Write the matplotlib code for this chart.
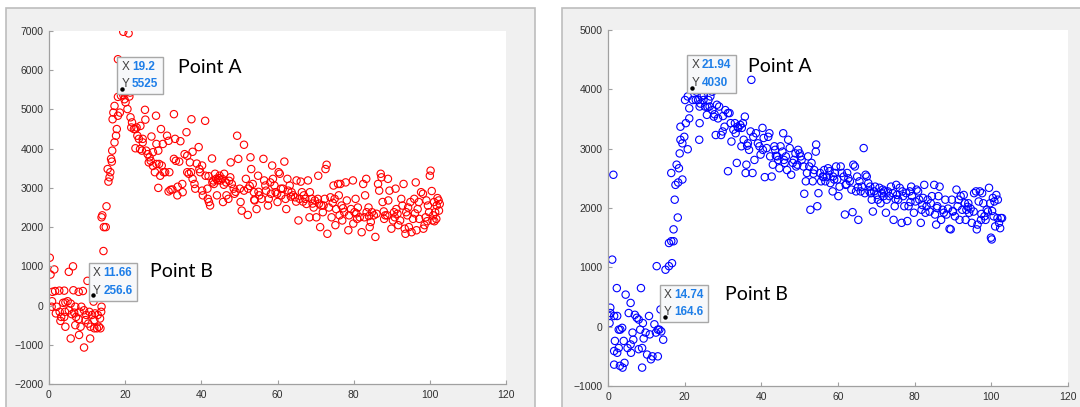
import matplotlib
matplotlib.use('Agg')
import matplotlib.pyplot as plt
from matplotlib.patches import Rectangle
from matplotlib.offsetbox import TextArea, HPacker, VPacker, AnnotationBbox

plt.rcParams['font.family'] = 'Liberation Sans'

# ---- left series (red) ----
red_x = [0.2, 0.4, 1.4, 0.9, 1.6, 2.7, 4.0, 0.8, 0.7, 2.0, 1.8, 2.8, 3.2, 3.7, 4.3, 4.9, 5.2, 4.2,
         4.0, 3.0, 4.3, 5.7, 5.2, 6.3, 6.4, 7.8, 8.9, 6.9, 6.6, 6.0, 7.1, 8.0, 8.5, 7.8, 6.9, 8.3,
         5.7, 7.9, 9.2, 10.1, 10.8, 9.2, 9.8, 10.6, 9.6, 10.3, 11.3, 11.66, 11.7, 11.9, 12.1, 12.8,
         13.1, 13.5, 13.8, 13.7, 13.4, 12.6, 11.9, 10.9, 14.3, 15.1, 14.0, 14.4, 14.9, 13.8, 15.6,
         15.9, 15.4, 16.1, 16.3, 16.5, 16.6, 17.2, 17.6, 17.8, 16.7, 16.9, 17.2, 18.1, 18.6, 18.1,
         18.9, 19.5, 19.2, 18.1, 19.5, 20.9, 19.8, 20.1, 20.6, 21.3, 21.1, 19.9, 21.4, 21.8, 21.6,
         22.3, 22.7, 23.0, 23.6, 24.0, 23.2, 23.6, 24.6, 24.6, 22.7, 23.9, 24.4, 25.2, 25.3, 25.5,
         25.9, 26.4, 26.2, 26.7, 27.3, 26.9, 27.3, 28.1, 28.2, 28.7, 27.8, 28.2, 28.9, 29.4, 29.6,
         30.1, 29.2, 28.7, 29.9, 31.0, 31.4, 31.6, 30.5, 31.9, 31.4, 32.4, 32.8, 33.1, 32.8, 33.3,
         33.7, 33.8, 34.2, 34.5, 35.0, 35.1, 35.6, 36.1, 36.3, 36.3, 36.7, 37.0, 37.3, 37.4, 37.7,
         37.7, 38.2, 38.4, 38.8, 39.3, 39.5, 39.7, 40.2, 40.2, 40.4, 41.0, 41.1, 41.6, 41.7, 42.0,
         42.3, 42.8, 42.9, 43.1, 43.6, 43.9, 44.1, 44.3, 44.8, 45.1, 45.5, 45.7, 46.0, 46.5, 46.6,
         47.1, 47.6, 47.7, 48.0, 48.5, 48.7, 49.4, 49.7, 50.1, 50.3, 50.6, 51.2, 51.2, 51.7, 52.2,
         52.3, 52.9, 53.1, 53.5, 53.8, 54.0, 54.5, 54.9, 55.2, 55.8, 56.3, 56.5, 56.8, 57.0, 57.5,
         57.7, 58.1, 58.6, 58.8, 59.2, 59.5, 60.0, 60.3, 60.6, 61.0, 61.4, 61.8, 62.1, 62.3, 62.6,
         62.8, 63.2, 63.7, 64.1, 64.6, 65.0, 65.5, 65.8, 66.1, 66.4, 66.9, 67.3, 67.6, 68.0, 68.4,
         68.5, 69.0, 69.5, 69.8, 70.2, 70.6, 70.7, 71.2, 71.5, 71.9, 72.4, 72.6, 72.9, 73.1, 73.5,
         73.9, 74.2, 74.7, 75.0, 75.2, 75.4, 75.9, 76.1, 76.5, 76.8, 77.0, 77.5, 77.9, 78.2, 78.6,
         78.8, 79.3, 79.8, 79.9, 80.2, 80.5, 80.9, 81.1, 81.6, 82.1, 82.5, 83.0, 83.3, 83.4, 83.9,
         84.2, 84.5, 84.8, 85.3, 85.7, 86.0, 86.4, 86.7, 87.1, 87.3, 87.6, 88.0, 88.3, 88.8, 89.0,
         89.1, 89.4, 89.9, 90.3, 90.6, 91.0, 91.2, 91.5, 91.7, 92.2, 92.5, 92.8, 93.1, 93.4, 93.6,
         93.8, 94.3, 94.5, 94.9, 95.2, 95.6, 95.9, 96.3, 96.5, 96.8, 97.1, 97.2, 97.7, 98.2, 98.3,
         98.6, 98.9, 99.1, 99.5, 99.8, 100.0, 100.2, 100.5, 100.7, 100.9, 101.1, 101.4, 101.7,
         101.8, 102.0, 102.3, 102.4, 102.6,
         44.6, 45.9, 47.3, 49.0, 52.7, 55.0, 58.3, 60.9, 63.5, 66.7, 69.2, 72.1, 74.5, 77.2, 80.7,
         84.0, 87.9, 90.8, 94.1, 96.1, 99.3, 101.2, 41.9, 43.3, 53.9, 59.9, 64.9, 70.9, 76.3, 82.8]
red_y = [1220, 790, 920, 350, 370, 380, 380, 110, -30, -30, -200, -160, -290, 70, 80, 110, -120,
         -160, -290, -390, -540, 50, 860, 1000, 390, 350, 370, -30, -180, -220, -290, -160, -30,
         -350, -500, -540, -840, -750, -1070, 630, -840, -120, -240, -160, -370, -460, -240, 256.6,
         100, -370, -200, -240, -540, -580, -30, -160, -330, -580, -580, -540, 1390, 2530, 2300,
         2000, 2000, 2250, 3160, 3270, 3480, 3400, 3740, 3670, 3950, 4160, 4330, 4500, 4750, 4920,
         5090, 4840, 4920, 5320, 5350, 5370, 5525, 6280, 6980, 6940, 5260, 5180, 5010, 5430, 5330,
         5430, 4800, 4670, 4540, 4500, 4500, 4540, 5500, 4580, 4330, 4250, 4250, 4160, 4010, 3990,
         3950, 4990, 4740, 3950, 3860, 3780, 3650, 3690, 3560, 4310, 3910, 4840, 4120, 3950, 3400,
         3610, 3610, 4500, 3570, 3400, 3310, 3000, 4120, 4330, 4200, 3400, 3400, 2950, 2910, 2960,
         4880, 4250, 3740, 3690, 2810, 3030, 3670, 4190, 3100, 2890, 3860, 4420, 3820, 3400, 3360,
         3650, 3400, 4750, 3920, 3230, 3100, 2980, 3620, 4040, 3480, 3400, 3570, 2930, 2810, 4710,
         3310, 2980, 2720, 2640, 2550, 3750, 3140, 3190, 3360, 3230, 2810, 3190, 3310, 3190, 3230,
         2640, 3360, 3140, 2810, 2720, 3270, 3650, 3100, 2980, 2850, 4330, 3740, 2980, 2640, 2420,
         4100, 2930, 3230, 2310, 2980, 3780, 3480, 3100, 2890, 2680, 2460, 3310, 2810, 2720, 3740,
         3190, 3060, 2930, 2550, 2720, 3140, 3570, 3230, 3060, 2890, 2640, 3400, 3360, 2810, 2980,
         3670, 2720, 2460, 3230, 2930, 3060, 2890, 2810, 2760, 3190, 2170, 2720, 3160, 2890, 2810,
         2720, 2590, 3190, 2250, 2890, 2720, 2500, 2680, 2250, 2720, 3310, 2000, 2550, 2380, 2720,
         3480, 3590, 1830, 2500, 2760, 2250, 3060, 2720, 2050, 2460, 3100, 2810, 3100, 2550, 2170,
         2380, 3140, 2680, 1920, 2300, 2460, 3190, 2090, 2380, 2720, 2210, 2500, 2250, 1870, 3100,
         2810, 3230, 2380, 2500, 2000, 2130, 2380, 2300, 1750, 2340, 3100, 2930, 3360, 3270, 2640,
         2210, 2300, 2300, 3230, 2680, 2930, 1960, 2170, 2380, 2980, 2460, 2340, 2050, 2170, 2720,
         2550, 3100, 1960, 1830, 2380, 2500, 2000, 2640, 1870, 2210, 2720, 3140, 1920, 2460, 2640,
         2210, 2890, 2850, 1960, 2050, 2250, 2680, 2550, 2380, 3310, 3440, 2920, 2170, 2300, 2640,
         2380, 2210, 2550, 2740, 2680, 2420, 2590,
         3250, 3080, 3180, 2900, 3050, 2900, 2850, 2980, 2780, 2650, 2600, 2550, 2620, 2480, 2350,
         2280, 2400, 2250, 2300, 2350, 2150, 2150, 3300, 3100, 2700, 2850, 2650, 2600, 2300, 2250]

# ---- right series (blue) ----
blue_x = [1.4, 1.1, 0.6, 0.2, 0.6, 0.4, 1.6, 2.3, 2.4, 2.8, 3.2, 3.7, 1.8, 1.6, 2.4, 2.8, 1.6, 3.1,
          3.8, 4.3, 4.1, 4.6, 5.4, 5.9, 5.1, 5.9, 6.4, 6.6, 6.0, 7.0, 7.5, 8.0, 8.6, 8.4, 9.1, 8.9,
          8.0, 8.9, 9.3, 9.8, 10.7, 10.2, 10.9, 11.6, 11.2, 12.1, 12.7, 12.5, 13.0, 13.4, 13.0, 13.7,
          13.9, 14.4, 14.74, 15.0, 15.3, 15.8, 15.9, 16.7, 15.9, 16.5, 17.1, 17.1, 17.4, 18.2, 17.6,
          17.9, 18.5, 18.3, 19.4, 16.5, 18.7, 18.9, 19.4, 19.9, 18.9, 20.3, 21.2, 20.8, 20.1, 20.8,
          21.2, 21.94, 22.1, 22.6, 23.1, 22.1, 22.9, 23.5, 23.9, 24.4, 24.9, 23.8, 23.9, 25.3, 25.8,
          26.2, 26.7, 27.2, 26.5, 27.2, 27.6, 28.1, 28.4, 28.7, 29.5, 29.0, 29.9, 30.4, 30.6, 31.3,
          31.7, 31.3, 32.0, 32.2, 32.7, 33.1, 33.6, 33.8, 34.0, 34.5, 34.9, 35.2, 35.7, 34.8, 35.4,
          35.9, 36.1, 36.5, 36.8, 37.2, 37.4, 37.7, 37.9, 38.2, 38.6, 39.1, 39.5, 40.3, 40.4, 40.6,
          40.9, 41.4, 41.8, 42.1, 42.3, 42.7, 43.0, 43.4, 43.6, 44.1, 44.4, 44.7, 45.0, 45.5, 45.7,
          45.9, 46.4, 46.7, 47.0, 47.4, 47.8, 48.2, 48.5, 48.9, 49.4, 49.6, 50.0, 50.3, 50.5, 51.0,
          51.2, 51.6, 51.9, 52.2, 52.5, 52.8, 53.1, 53.4, 53.8, 54.2, 54.3, 54.6, 54.9, 55.3, 55.6,
          56.0, 56.4, 56.7, 57.1, 57.4, 57.8, 58.0, 58.6, 58.7, 59.2, 59.5, 59.8, 60.1, 60.4, 60.7,
          61.0, 61.5, 61.8, 62.0, 62.4, 62.7, 63.1, 63.5, 63.8, 64.0, 64.4, 64.7, 65.0, 65.3, 65.6,
          65.9, 66.2, 66.7, 67.0, 67.2, 67.5, 67.9, 68.2, 68.4, 68.8, 69.1, 69.4, 69.7, 70.2, 70.4,
          70.8, 71.1, 71.4, 71.7, 72.0, 72.5, 72.7, 73.0, 73.4, 73.8, 74.3, 74.5, 74.8, 75.2, 75.4,
          75.7, 76.1, 76.6, 76.8, 77.0, 77.3, 77.8, 78.1, 78.4, 78.7, 79.1, 79.3, 79.8, 80.2, 80.5,
          80.9, 81.2, 81.6, 81.8, 82.2, 82.5, 82.8, 83.1, 83.4, 83.9, 84.2, 84.5, 85.1, 85.3, 85.6,
          85.9, 86.2, 86.5, 86.9, 87.3, 87.6, 88.0, 88.3, 88.7, 89.1, 89.4, 89.7, 90.0, 90.5, 90.9,
          91.2, 91.5, 91.7, 92.0, 92.4, 92.8, 93.1, 93.3, 93.5, 94.0, 94.2, 94.6, 94.9, 95.4, 95.5,
          96.0, 96.2, 96.4, 96.7, 97.0, 97.3, 97.6, 97.9, 98.2, 98.5, 98.8, 99.1, 99.4, 99.7, 99.9,
          100.1, 100.4, 100.6, 100.8, 101.0, 101.3, 101.6, 101.7, 102.0, 102.3, 102.5, 102.8,
          24.1, 25.0, 26.0, 27.8, 30.0, 33.3, 36.3, 39.8, 43.8, 46.1, 49.1, 53.6, 56.2, 59.0, 62.2,
          65.2, 68.6, 71.9, 75.0, 78.9, 82.0, 85.8, 89.9, 93.8, 97.4, 100.2]
blue_y = [2560, 1130, 320, 180, 230, 60, 180, 650, 180, -50, -50, -20, -240, -410, -440, -360,
          -640, -660, -690, -610, -240, 540, 230, 400, -360, -300, -100, -220, -440, 200, 150, 120,
          650, -50, 60, -360, -380, -690, -200, -100, 180, -470, -130, -500, -550, 40, 1020, -100,
          -50, -50, -500, 290, -80, -220, 164.6, 960, 400, 180, 1020, 1070, 1410, 1440, 1440, 1640,
          2140, 1840, 2390, 2730, 2670, 2430, 2480, 2590, 2920, 3150, 3090, 3200, 3370, 3430, 3510,
          2990, 3820, 3880, 3680, 4030, 4310, 3990, 3960, 3820, 3820, 3820, 3710, 3880, 3820, 3150,
          3430, 3710, 3570, 3820, 3880, 3960, 3710, 3650, 3540, 3230, 3740, 3510, 3230, 3710, 3290,
          3370, 3650, 3600, 3600, 2620, 3430, 3120, 3320, 3430, 2760, 3370, 3350, 3400, 3350, 3430,
          3540, 3040, 3150, 2590, 2730, 3090, 2980, 3290, 4160, 2590, 3200, 2810, 3260, 3090, 3040,
          3350, 2980, 3180, 2520, 3010, 3200, 3260, 2870, 2530, 2730, 3040, 2980, 2870, 2810, 2670,
          3040, 2950, 3260, 2810, 2870, 2640, 3150, 3010, 2560, 2760, 2810, 2920, 2730, 2980, 2920,
          2870, 2810, 2700, 2240, 2450, 2590, 2870, 2700, 1970, 2760, 2450, 2640, 2950, 3070, 2030,
          2250, 2590, 2450, 2530, 2640, 2450, 2530, 2670, 2620, 2420, 2280, 2530, 2590, 2700, 2480,
          2200, 2360, 2700, 2590, 2530, 1890, 2390, 2590, 2500, 2450, 2310, 1930, 2730, 2700, 2280,
          2530, 1800, 2450, 2280, 2360, 3010, 2250, 2560, 2530, 2420, 2280, 2360, 2140, 1940, 2280,
          2360, 2220, 2140, 2340, 2080, 2250, 2310, 2280, 1920, 2140, 2280, 2200, 2360, 2250, 1800,
          2030, 2390, 2220, 2140, 2340, 1750, 2280, 2200, 2030, 2250, 1780, 2030, 2280, 2360, 2200,
          1920, 2110, 2310, 2280, 2140, 1750, 1970, 2170, 2390, 1920, 2030, 2140, 1940, 2080, 2200,
          2390, 1890, 1720, 2030, 2200, 2360, 1800, 1970, 1920, 2140, 1890, 1990, 1650, 1640, 2140,
          1940, 1860, 2310, 2030, 2140, 1800, 2200, 1970, 2220, 2080, 1800, 1970, 2080, 1920, 1990,
          1750, 1940, 2250, 2280, 1640, 1720, 2110, 2280, 1800, 2250, 2080, 1860, 1800, 1970, 1940,
          2340, 2080, 1500, 1470, 2170, 1860, 2110, 1690, 2220, 1830, 2140, 1750, 1660, 1830, 1830,
          3760, 3900, 3700, 3580, 3550, 3260, 3050, 2900, 2880, 2760, 2700, 2580, 2520, 2480, 2400,
          2350, 2250, 2200, 2150, 2100, 2050, 2000, 1950, 2020, 1900, 1950]

# datatips and labels
tip_red = [(19.2, 5525, '19.2', '5525'), (11.66, 256.6, '11.66', '256.6')]
tip_blue = [(21.94, 4030, '21.94', '4030'), (14.74, 164.6, '14.74', '164.6')]
lbl_red = [(33.9, 6057, 'Point A'), (26.5, 856, 'Point B')]
lbl_blue = [(36.5, 4393, 'Point A'), (30.5, 534, 'Point B')]

W, H = 1080, 407
fig = plt.figure(figsize=(W / 100, H / 100), dpi=100)
fig.patch.set_facecolor('white')

# gray window frames behind each axes
for x0, x1 in [(6, 535), (562, 1085)]:
    fig.add_artist(Rectangle((x0 / W, -0.05), (x1 - x0) / W, 1 - 8 / H + 0.05,
                             transform=fig.transFigure, facecolor='#f0f0f0',
                             edgecolor='#bdbdbd', linewidth=1.2, zorder=-5))


def datatip(ax, x, y, sx, sy):
    rows = []
    for lab, val in [('X', sx), ('Y', sy)]:
        a = TextArea(lab, textprops=dict(color='#404040', fontsize=8.5))
        b = TextArea(val, textprops=dict(color='#1e7ee8', fontsize=8.5, fontweight='bold'))
        rows.append(HPacker(children=[a, b], pad=0, sep=2))
    box = VPacker(children=rows, pad=0, sep=4)
    ab = AnnotationBbox(box, (x, y), xybox=(-0.5, -1), boxcoords='offset points',
                        box_alignment=(0, 0), pad=0.5, frameon=True,
                        bboxprops=dict(facecolor='#f7f8fa', edgecolor='#a8a8a8', linewidth=1.0,
                                       boxstyle='square'))
    ax.add_artist(ab)
    ax.plot([x], [y], 'o', color='black', markersize=2.2, zorder=5)


def panel(rect, xs, ys, color, ylim, tips, labels):
    ax = fig.add_axes(rect)
    ax.scatter(xs, ys, s=28, facecolors='none', edgecolors=color, linewidths=0.8)
    ax.set_xlim(0, 120)
    ax.set_ylim(*ylim)
    ax.set_xticks(range(0, 121, 20))
    ax.set_yticks(range(ylim[0], ylim[1] + 1, 1000))
    for s in ['top', 'right']:
        ax.spines[s].set_visible(False)
    for s in ['left', 'bottom']:
        ax.spines[s].set_color('#a0a0a0')
        ax.spines[s].set_linewidth(0.9)
    ax.tick_params(direction='in', length=3, width=0.8, color='#a0a0a0',
                   labelsize=7.5, labelcolor='#303030', pad=4)
    for x, y, sx, sy in tips:
        datatip(ax, x, y, sx, sy)
    for x, y, t in labels:
        ax.text(x, y, t, fontsize=14, family='Lato', color='black', va='center', ha='left')
    return ax


panel([49 / W, 1 - 384 / H, 457 / W, 353 / H], red_x, red_y, '#ff0000', (-2000, 7000),
      tip_red, lbl_red)
panel([608 / W, 1 - 386 / H, 460 / W, 356 / H], blue_x, blue_y, '#0000ff', (-1000, 5000),
      tip_blue, lbl_blue)

fig.savefig('out.png', dpi=100, facecolor='white')
